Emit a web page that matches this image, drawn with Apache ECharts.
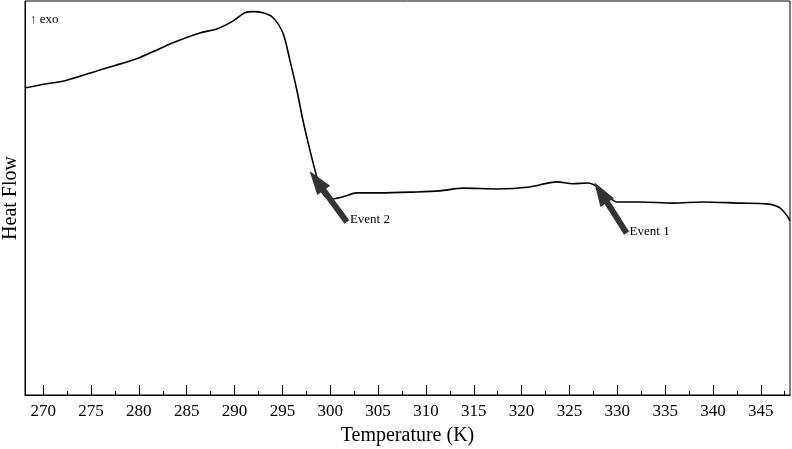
<!DOCTYPE html>
<html>
<head>
<meta charset="utf-8">
<script src="https://cdn.jsdelivr.net/npm/echarts@6/dist/echarts.min.js"></script>
<style>
  html, body { margin: 0; padding: 0; background: #fff; }
  #chart { width: 792px; height: 449px; }
</style>
</head>
<body>
<div id="chart"></div>
<script>
// temperature (K) and heat flow (arbitrary units, exo up)
const temps = [268.09, 269.65, 272.48, 275.93, 279.37, 281.15, 283.76, 286.37, 288.15, 289.82,
  291.07, 291.91, 292.96, 294.0, 295.05, 295.78, 296.51, 297.14, 297.87, 298.6,
  299.13, 299.96, 301.32, 302.78, 305.18, 308.63, 311.46, 313.86, 317.41, 320.86,
  323.68, 325.35, 326.92, 327.96, 328.91, 329.95, 332.36, 335.81, 338.94, 342.81,
  345.63, 346.99, 347.83, 348.04];
const heatFlow = [77.9, 78.7, 79.9, 82.5, 85.0, 86.8, 89.6, 91.9, 92.9, 94.9,
  97.0, 97.3, 97.0, 95.8, 91.9, 85.0, 77.4, 69.8, 62.2, 55.3,
  51.5, 49.7, 50.3, 51.3, 51.3, 51.5, 51.8, 52.5, 52.3, 52.8,
  54.1, 53.6, 53.8, 52.8, 50.8, 49.0, 49.0, 48.7, 49.0, 48.7,
  48.5, 47.5, 45.2, 44.2];

const majorTicks = [270, 275, 280, 285, 290, 295, 300, 305, 310, 315, 320, 325, 330, 335, 340, 345];
const minorTicks = [272.5, 277.5, 282.5, 287.5, 292.5, 297.5, 302.5, 307.5, 312.5, 317.5,
  322.5, 327.5, 332.5, 337.5, 342.5, 347.5];

// events: [label, arrow head centre, arrow tail]
const events = [
  ['Event 2', [298.58, 54.4], [301.74, 43.9]],
  ['Event 1', [328.27, 51.4], [330.97, 41.1]]
];

const serif = "'Liberation Serif', 'Times New Roman', serif";
const xMin = 268.1, xMax = 348.05;

let chart = echarts.init(document.getElementById('chart'));
let option = {
  animation: false,
  title: {
    text: '↑ exo',
    left: 25, top: 8,
    textStyle: { fontFamily: serif, fontSize: 13, fontWeight: 'normal', color: '#000' }
  },
  grid: {
    left: 25, right: 2, top: 1, bottom: 54,
    outerBoundsMode: 'none', containLabel: false,
    show: true, borderColor: '#000', borderWidth: 1
  },
  xAxis: [
    {
      type: 'value', min: xMin, max: xMax,
      name: 'Temperature (K)', nameLocation: 'middle', nameGap: 31,
      nameTextStyle: { fontFamily: serif, fontSize: 20, color: '#000' },
      axisLine: { lineStyle: { color: '#000', width: 1 } },
      axisTick: { inside: true, length: 10, customValues: majorTicks, lineStyle: { color: '#000' } },
      axisLabel: { customValues: majorTicks, margin: 8, fontFamily: serif, fontSize: 17, color: '#000' },
      splitLine: { show: false }
    },
    {
      type: 'value', min: xMin, max: xMax, position: 'bottom',
      axisLine: { show: false },
      axisTick: { inside: true, length: 4, customValues: minorTicks, lineStyle: { color: '#000' } },
      axisLabel: { show: false },
      splitLine: { show: false }
    }
  ],
  yAxis: {
    type: 'value', min: 0, max: 100,
    name: 'Heat Flow', nameLocation: 'middle', nameGap: 4,
    nameTextStyle: { fontFamily: serif, fontSize: 20, color: '#000' },
    axisLine: { show: true, lineStyle: { color: '#000' } },
    axisTick: { show: false },
    axisLabel: { show: false },
    splitLine: { show: false }
  },
  series: [
    {
      type: 'line',
      data: temps.map((t, i) => [t, heatFlow[i]]),
      smooth: 0.3,
      showSymbol: false,
      lineStyle: { color: '#000', width: 1.6 },
      z: 3
    },
    {
      type: 'line',
      data: [],
      markLine: {
        silent: true,
        symbol: ['none', 'triangle'],
        symbolSize: [16, 24],
        lineStyle: { color: '#333', width: 6, type: 'solid' },
        label: { show: false },
        data: events.map(e => [{ coord: e[2] }, { coord: e[1] }])
      },
      markPoint: {
        silent: true,
        symbol: 'circle', symbolSize: 0,
        label: {
          show: true, position: 'right', distance: 3,
          formatter: p => p.name,
          fontFamily: serif, fontSize: 13, color: '#000'
        },
        data: events.map(e => ({ name: e[0], coord: [e[2][0], e[2][1] + 0.5] }))
      },
      z: 4
    }
  ]
};
chart.setOption(option);
</script>
</body>
</html>
